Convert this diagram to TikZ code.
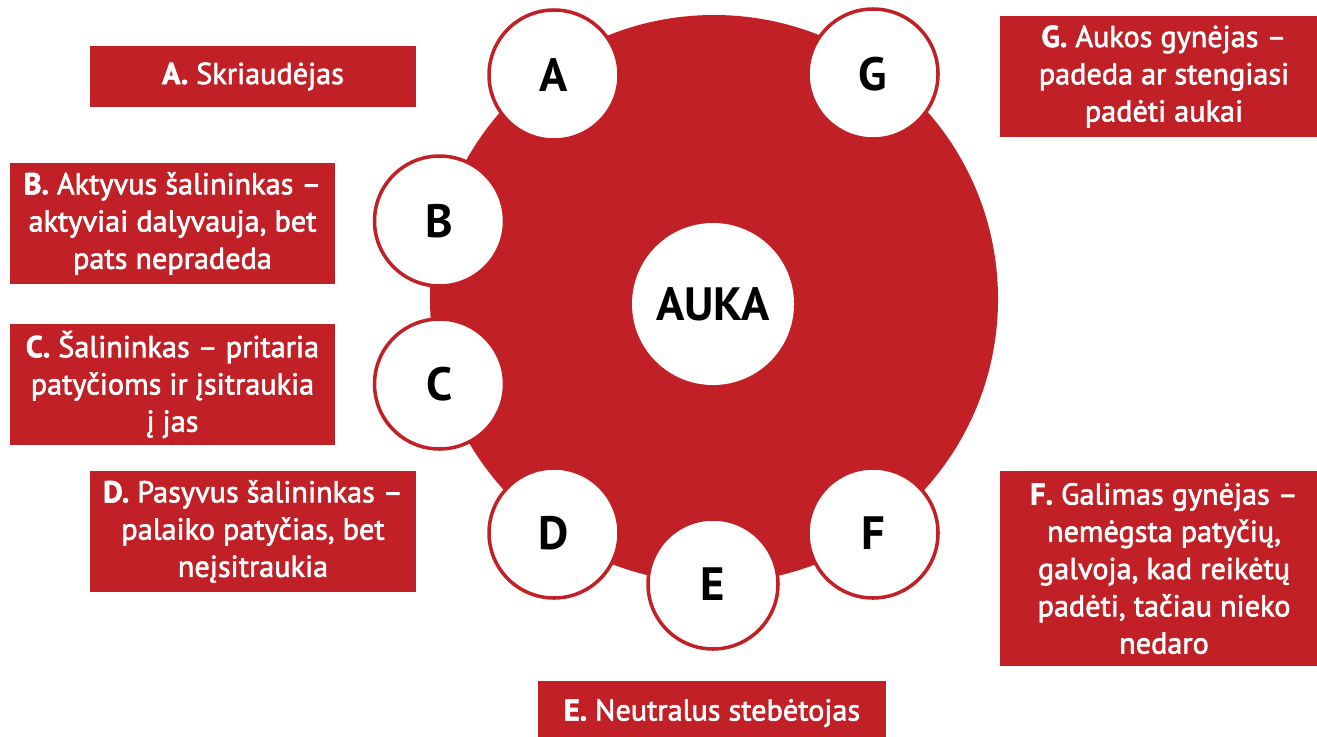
\documentclass[tikz,border=0pt]{standalone}
\usepackage{fontspec}
\setmainfont{PT Sans}
\newfontfamily\rolefont{PT Sans}[FakeBold=2]
\usepackage{xcolor}
\usepackage{tikz}
\definecolor{aukared}{RGB}{193,32,38}

\begin{document}
\begin{tikzpicture}[
    member/.style={circle, draw=aukared, line width=1pt, fill=white, minimum size=1.3cm, inner sep=0pt, font=\fontsize{13.3}{15}\selectfont\bfseries},
    rolebox/.style={fill=aukared, text=white, align=center, inner sep=0pt, font=\rolefont\fontsize{8.6}{10.6}\selectfont}
]
    \useasboundingbox (0,0) rectangle (13.17,-7.36);
    \clip (0,0) rectangle (13.17,-7.36);

    \fill[aukared] (7.14,-2.99) circle (2.84); % big red disc
    \node[circle, fill=white, minimum size=1.62cm, inner sep=0pt, font=\fontsize{13.3}{15}\selectfont\bfseries] (auka) at (7.13,-3.04) {AUKA};

    % letters round the disc
    \foreach \n/\x/\y in {A/5.54/-0.75, B/4.395/-2.21, C/4.395/-3.84, D/5.54/-5.33, E/7.13/-5.84, F/8.73/-5.33, G/8.73/-0.74}
        \node[member] (\n) at (\x,\y) {\n};

    % role boxes
    \node[rolebox, minimum width=3.26cm, minimum height=0.61cm] (boxA) at (2.53,-0.765) {\textbf{A.} Skriaudėjas};
    \node[rolebox, minimum width=3.25cm, minimum height=1.21cm] (boxB) at (1.725,-2.235) {\textbf{B.} Aktyvus šalininkas –\\aktyviai dalyvauja, bet\\pats nepradeda};
    \node[rolebox, minimum width=3.25cm, minimum height=1.21cm] (boxC) at (1.725,-3.845) {\textbf{C.} Šalininkas – pritaria\\patyčioms ir įsitraukia\\į jas};
    \node[rolebox, minimum width=3.26cm, minimum height=1.21cm] (boxD) at (2.53,-5.315) {\textbf{D.} Pasyvus šalininkas –\\palaiko patyčias, bet\\neįsitraukia};
    \node[rolebox, minimum width=3.48cm, minimum height=0.64cm] (boxE) at (7.12,-7.13) {\textbf{E.} Neutralus stebėtojas};
    \node[rolebox, minimum width=3.28cm, minimum height=1.95cm] (boxF) at (11.64,-5.685) {\textbf{F.} Galimas gynėjas –\\nemėgsta patyčių,\\galvoja, kad reikėtų\\padėti, tačiau nieko\\nedaro};
    \node[rolebox, minimum width=3.28cm, minimum height=1.21cm] (boxG) at (11.64,-0.765) {\textbf{G.} Aukos gynėjas –\\padeda ar stengiasi\\padėti aukai};
\end{tikzpicture}
\end{document}
